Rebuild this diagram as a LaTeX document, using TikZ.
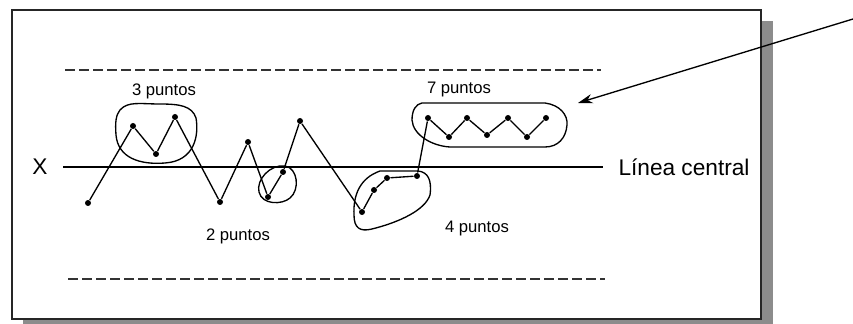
\documentclass[tikz,border=0pt]{standalone}
\usepackage{fontspec}
\setmainfont{Liberation Sans}
\usetikzlibrary{arrows.meta}

\tikzset{every picture/.style={line width=0.75pt}}
\tikzset{
  pt/.style={circle,fill=black,inner sep=0pt,minimum size=4.5pt},
  lbl/.style={inner sep=0.75pt,font=\fontsize{12.5}{14}\selectfont},
  big/.style={inner sep=0.75pt,font=\fontsize{17}{20}\selectfont},
  lim/.style={draw=black!80,line width=1.5pt,dash pattern=on 7.5pt off 3pt},
  loop/.style={draw=black,line width=1pt}
}

\begin{document}
\begin{tikzpicture}[x=0.75pt,y=0.75pt,yscale=-1,xscale=1]
	\useasboundingbox (0,0) rectangle (853,324);
	
	%Shadow
	\fill [black!45] (23,21) rectangle (773,330);
	%Frame
	\draw [draw=black!85,fill=white,line width=1.5pt] (12,10) rectangle (761,319);
	
	%Limits
	\coordinate (ul0) at (65,70);
	\coordinate (ul1) at (601,70);
	\coordinate (ll0) at (68,279);
	\coordinate (ll1) at (605,279);
	\draw [lim] (ul0) -- (ul1);
	\draw [lim] (ll0) -- (ll1);
	
	%Central line
	\coordinate (cl0) at (63,167);
	\coordinate (cl1) at (603,167);
	\draw [line width=1.4pt] (cl0) -- (cl1);
	
	% Text Node
	\node [big] (X) at (40,167) {X};
	% Text Node
	\node [big,anchor=west] (lc) at (617,167) {Línea central};
	
	%Points
	\node [pt] (p1) at (88,203) {};
	\node [pt] (p2) at (133,126) {};
	\node [pt] (p3) at (156,154) {};
	\node [pt] (p4) at (175,117) {};
	\node [pt] (p5) at (220,202) {};
	\node [pt] (p6) at (248,142) {};
	\node [pt] (p7) at (268,197) {};
	\node [pt] (p8) at (283,172) {};
	\node [pt] (p9) at (300,121) {};
	\node [pt] (p10) at (362,212) {};
	\node [pt] (p11) at (374,190) {};
	\node [pt] (p12) at (387,178) {};
	\node [pt] (p13) at (417,176) {};
	\node [pt] (p14) at (428,118) {};
	\node [pt] (p15) at (449,137) {};
	\node [pt] (p16) at (467,118) {};
	\node [pt] (p17) at (487,135) {};
	\node [pt] (p18) at (508,118) {};
	\node [pt] (p19) at (527,137) {};
	\node [pt] (p20) at (546,118) {};
	
	%Zigzag
	\draw [line width=1pt] (p1) -- (p2) -- (p3) -- (p4) -- (p5) -- (p6) -- (p7) -- (p8) -- (p9) -- (p10) -- (p11) -- (p12) -- (p13) -- (p14) -- (p15) -- (p16) -- (p17) -- (p18) -- (p19) -- (p20);
	
	%Shape: 3 puntos
	\draw [loop] (120,110) .. controls (128,101) and (140,104) .. (160,104) .. controls (180,104) and (192,106) .. (196,118) .. controls (199,135) and (195,161) .. (165,163) .. controls (140,165) and (118,158) .. (116,135) .. controls (115,122) and (116,115) .. (120,110) -- cycle ;
	%Shape: 2 puntos
	\draw [loop] (285,166) .. controls (298,168) and (300,190) .. (290,198) .. controls (282,205) and (262,205) .. (259,192) .. controls (256,180) and (270,164) .. (285,166) -- cycle ;
	%Shape: 4 puntos
	\draw [loop] (380,171) -- (418,171) .. controls (428,172) and (432,180) .. (430,195) .. controls (425,210) and (400,222) .. (372,229) .. controls (360,232) and (354,228) .. (354,215) .. controls (353,195) and (360,178) .. (380,171) -- cycle ;
	%Shape: 7 puntos
	\draw [loop] (422,103) -- (545,103) .. controls (560,105) and (568,115) .. (567,125) .. controls (566,138) and (558,147) .. (545,147) -- (450,147) .. controls (432,146) and (413,135) .. (412,120) .. controls (412,110) and (416,104) .. (422,103) -- cycle ;
	
	% Text Node
	\node [lbl] (t3) at (164,91) {3 puntos};
	% Text Node
	\node [lbl] (t2) at (238,236) {2 puntos};
	% Text Node
	\node [lbl] (t4) at (477,228) {4 puntos};
	% Text Node
	\node [lbl] (t7) at (459,89) {7 puntos};
	
	%Arrow
	\coordinate (a0) at (853,19);
	\coordinate (a1) at (578,103);
	\draw [line width=1pt,-{Stealth[length=11pt,width=7pt]}] (a0) -- (a1);
	
\end{tikzpicture}
\end{document}
